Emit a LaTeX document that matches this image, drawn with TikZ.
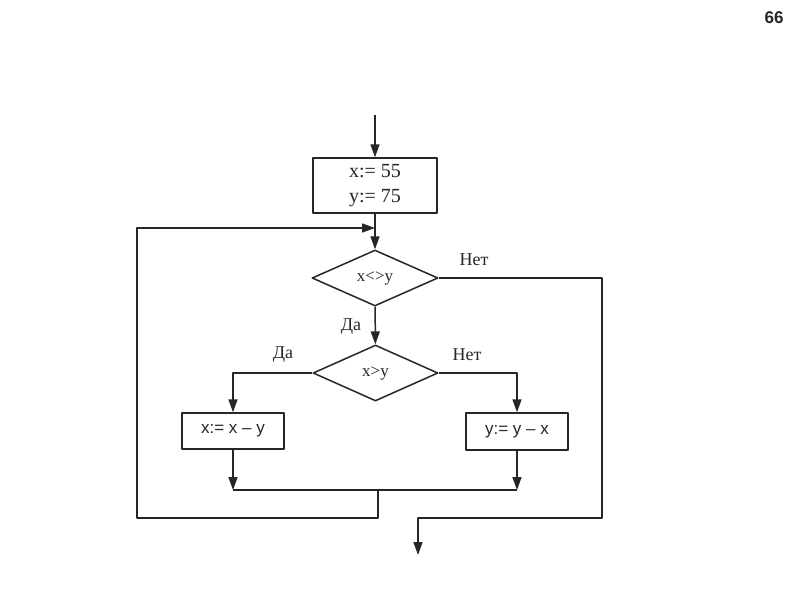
\documentclass[tikz,border=0pt]{standalone}
\usepackage{fontspec}
\setmainfont{Liberation Serif}
\setsansfont{Liberation Sans}
\usetikzlibrary{shapes.geometric,arrows.meta}
\tikzset{
	blk/.style={draw,line width=1.5pt,inner sep=0pt},
	cond/.style={draw,diamond,line width=1.5pt,inner sep=0pt,minimum width=126pt,minimum height=56pt},
	lbl/.style={font=\fontsize{18}{20}\selectfont}
}
\begin{document}
\begin{tikzpicture}[x=1pt,y=-1pt,>={Triangle[length=13pt,width=9pt]},line join=round,line width=1.5pt,color=black!85]
	\useasboundingbox[fill=white] (0,0) rectangle (800,600);
	\node[font=\sffamily\bfseries\fontsize{17}{19}\selectfont] (page) at (774,18) {66};
	% blocks
	\node[blk,minimum width=124pt,minimum height=55pt,align=center,font=\fontsize{20}{25}\selectfont] (init) at (375,185.5) {x:= 55\\y:= 75};
	\node[cond,font=\fontsize{17}{19}\selectfont] (cmp1) at (375,278) {x<>y};
	\node[cond,font=\fontsize{17}{19}\selectfont,minimum width=125pt] (cmp2) at (375.5,373) {x>y};
	\node[blk,minimum width=102pt,minimum height=36pt,font=\sffamily\fontsize{17}{19}\selectfont] (subx) at (233,431) {x:= x -- y};
	\node[blk,minimum width=102pt,minimum height=37pt,font=\sffamily\fontsize{17}{19}\selectfont] (suby) at (517,431.5) {y:= y -- x};
	% labels
	\node[lbl] (no1) at (474,260) {Нет};
	\node[lbl] (yes1) at (351,327) {Да};
	\node[lbl] (yes2) at (283,355) {Да};
	\node[lbl] (no2) at (467,355) {Нет};
	% free ends
	\coordinate (in) at (375,115);
	\coordinate (back) at (375,228);
	\coordinate (join) at (378,490);
	\coordinate (lj) at (233,490);
	\coordinate (rj) at (517,490);
	\coordinate (out) at (418,555);
	% connectors
	\draw[->] (in) -- (init);
	\draw[->] (init) -- (cmp1);
	\draw[->] (cmp1) -- (cmp2);
	\draw[->] (cmp2.west) -| (subx);
	\draw[->] (cmp2.east) -| (suby);
	\draw[->] (subx) -- (lj);
	\draw[->] (suby) -- (rj);
	\draw (lj) -- (rj);
	\draw[->] (join) -- ++(0,28) -| (137,228) -- (back);
	\draw[->] (cmp1.east) -- (602,278) -- (602,518) -- (418,518) -- (out);
\end{tikzpicture}
\end{document}
